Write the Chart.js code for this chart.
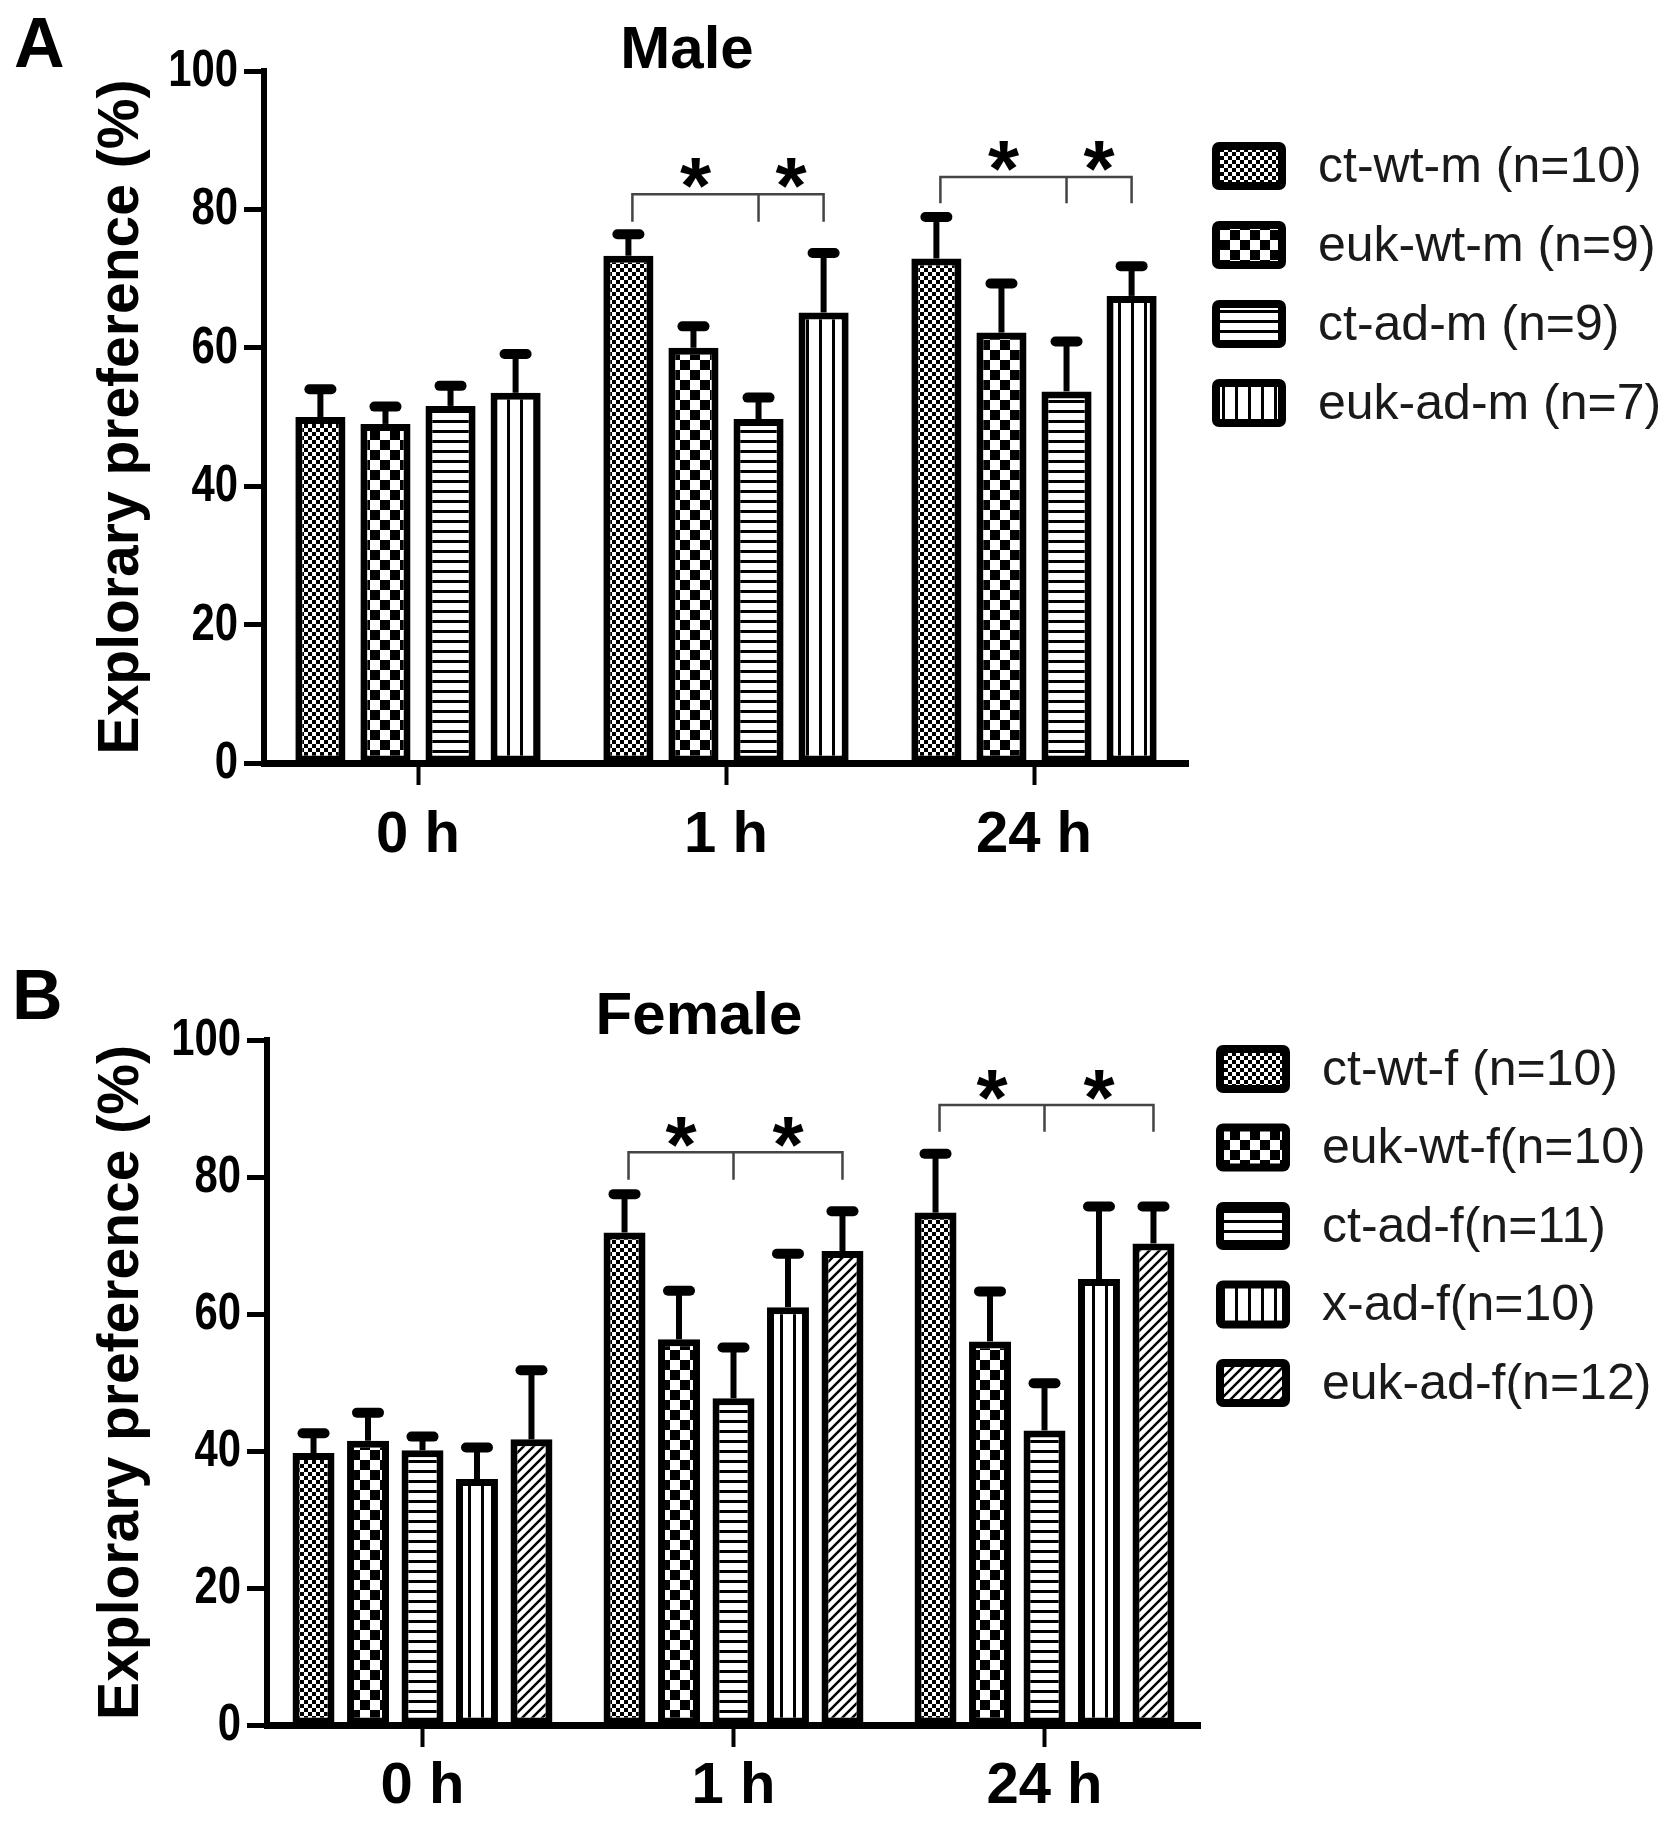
<!DOCTYPE html>
<html>
<head>
<meta charset="utf-8">
<script src="https://cdn.jsdelivr.net/npm/chart.js@4.4.1/dist/chart.umd.min.js"></script>
<style>
  body { margin: 0; background: #fff; width: 1677px; height: 1821px; position: relative; overflow: hidden;
         font-family: 'Liberation Sans', Arial, sans-serif; color: #000; }
  .panel { position: absolute; left: 0; }
  .letter { position: absolute; font-weight: bold; font-size: 70px; line-height: 1; }
  .ttl { position: absolute; font-weight: bold; font-size: 60px; line-height: 1; transform: translateX(-50%); white-space: nowrap; }
</style>
</head>
<body>
<div class="letter" style="left:14px; top:8px;">A</div>
<div class="ttl" style="left:687px; top:18px;">Male</div>
<canvas id="male" class="panel" style="top:0" width="1677" height="900"></canvas>

<div class="letter" style="left:12px; top:960px;">B</div>
<div class="ttl" style="left:699px; top:984px;">Female</div>
<canvas id="female" class="panel" style="top:900px" width="1677" height="921"></canvas>

<script>
// time points on the x axis
const timeLabels = ['0 h', '1 h', '24 h'];
const yTicks = [0, 20, 40, 60, 80, 100];

// Male groups (mean and SEM)
const maleNames = ['ct-wt-m (n=10)', 'euk-wt-m (n=9)', 'ct-ad-m (n=9)', 'euk-ad-m (n=7)'];
const maleCtWt = [50.0, 73.3, 72.9];
const maleEukWt = [49.0, 60.0, 62.2];
const maleCtAd = [51.6, 49.7, 53.7];
const maleEukAd = [53.5, 65.1, 67.5];
const maleCtWtSem = [4.0, 3.1, 6.0];
const maleEukWtSem = [2.5, 3.1, 7.1];
const maleCtAdSem = [2.9, 3.1, 7.2];
const maleEukAdSem = [5.6, 8.6, 4.3];

// Female groups
const femaleNames = ['ct-wt-f (n=10)', 'euk-wt-f(n=10)', 'ct-ad-f(n=11)', 'x-ad-f(n=10)', 'euk-ad-f(n=12)'];
const femaleCtWt = [39.7, 71.9, 74.8];
const femaleEukWt = [41.5, 56.3, 56.0];
const femaleCtAd = [40.1, 47.7, 43.0];
const femaleXAd = [35.9, 61.0, 65.1];
const femaleEukAd = [41.7, 69.2, 70.3];
const femaleCtWtSem = [2.9, 5.6, 8.6];
const femaleEukWtSem = [4.1, 7.1, 7.3];
const femaleCtAdSem = [2.0, 7.4, 6.9];
const femaleXAdSem = [4.6, 7.8, 10.6];
const femaleEukAdSem = [10.1, 5.8, 5.4];

// significance brackets: [time index, bracket level, leg bottom]
const maleBrackets = [[1, 82.2, 78.2], [2, 84.7, 80.9]];
const femaleBrackets = [[1, 83.6, 79.6], [2, 90.5, 86.6]];

Chart.defaults.font.family = "'Liberation Sans', Arial, sans-serif";
Chart.defaults.color = '#000';

// fill patterns for the bars
function makePattern(kind) {
  const c = document.createElement('canvas');
  const g = c.getContext('2d');
  let w = 10, h = 10;
  if (kind === 'dots') { w = h = 8; }
  if (kind === 'checker') { w = h = 20; }
  if (kind === 'vlines') { w = 13; h = 13; }
  c.width = w; c.height = h;
  g.fillStyle = '#fff';
  g.fillRect(0, 0, w, h);
  g.fillStyle = '#000';
  g.strokeStyle = '#000';
  if (kind === 'dots') {
    g.fillRect(0, 0, 4, 4);
    g.fillRect(4, 4, 4, 4);
  } else if (kind === 'checker') {
    g.fillRect(0, 0, 10, 10);
    g.fillRect(10, 10, 10, 10);
  } else if (kind === 'hlines') {
    g.fillRect(0, 0, w, 3);
  } else if (kind === 'vlines') {
    g.fillRect(0, 0, 3, h);
  } else if (kind === 'diag') {
    g.lineWidth = 2.5;
    g.beginPath();
    g.moveTo(0, h); g.lineTo(w, 0);
    g.moveTo(-2, 2); g.lineTo(2, -2);
    g.moveTo(w - 2, h + 2); g.lineTo(w + 2, h - 2);
    g.stroke();
  }
  return g.createPattern(c, 'repeat');
}

const pats = {
  dots: makePattern('dots'),
  checker: makePattern('checker'),
  hlines: makePattern('hlines'),
  vlines: makePattern('vlines'),
  diag: makePattern('diag')
};

function barSet(label, data, sem, pattern) {
  return {
    label: label, data: data, errors: sem,
    backgroundColor: pattern, borderColor: '#000', borderWidth: 7, borderSkipped: false
  };
}

// upper error bars with caps
const errorBars = {
  id: 'errorBars',
  afterDatasetsDraw(chart) {
    const ctx = chart.ctx;
    const ys = chart.scales.y;
    ctx.save();
    ctx.strokeStyle = '#000';
    chart.data.datasets.forEach((ds, di) => {
      const meta = chart.getDatasetMeta(di);
      meta.data.forEach((bar, i) => {
        const top = ys.getPixelForValue(ds.data[i] + ds.errors[i]);
        ctx.lineCap = 'butt';
        ctx.lineWidth = 6;
        ctx.beginPath();
        ctx.moveTo(bar.x, bar.y);
        ctx.lineTo(bar.x, top);
        ctx.stroke();
        ctx.lineCap = 'round';
        ctx.lineWidth = 10;
        ctx.beginPath();
        ctx.moveTo(bar.x - 11, top);
        ctx.lineTo(bar.x + 11, top);
        ctx.stroke();
      });
    });
    ctx.restore();
  }
};

// brackets with stars between control and treated groups
const brackets = {
  id: 'brackets',
  afterDatasetsDraw(chart, args, opts) {
    const ctx = chart.ctx;
    const ys = chart.scales.y;
    const n = chart.data.datasets.length;
    const first = chart.getDatasetMeta(0);
    const mid = chart.getDatasetMeta(2);
    const last = chart.getDatasetMeta(n - 1);
    const size = 80;
    ctx.save();
    ctx.strokeStyle = '#444';
    ctx.lineWidth = 2.5;
    ctx.fillStyle = '#000';
    ctx.font = 'bold ' + size + 'px "Liberation Sans", Arial, sans-serif';
    ctx.textAlign = 'center';
    ctx.textBaseline = 'alphabetic';
    opts.items.forEach(([k, lvl, leg]) => {
      const x1 = first.data[k].x + 4, xm = mid.data[k].x, x2 = last.data[k].x;
      const yl = ys.getPixelForValue(lvl), yb = ys.getPixelForValue(leg);
      ctx.beginPath();
      ctx.moveTo(x1, yb); ctx.lineTo(x1, yl); ctx.lineTo(x2, yl); ctx.lineTo(x2, yb);
      ctx.moveTo(xm, yl); ctx.lineTo(xm, yb);
      ctx.stroke();
      const sy = ys.getPixelForValue(lvl + 3.8) + 0.57 * size;
      ctx.fillText('*', (x1 + xm) / 2, sy);
      ctx.fillText('*', (xm + x2) / 2, sy);
    });
    ctx.restore();
  }
};

// y tick numbers in a narrow bold face, placed from the y scale
const narrowTicks = {
  id: 'narrowTicks',
  afterDraw(chart) {
    const ctx = chart.ctx;
    const ys = chart.scales.y;
    ctx.save();
    ctx.fillStyle = '#000';
    ctx.font = 'bold 51px "Liberation Sans", Arial, sans-serif';
    ctx.textAlign = 'right';
    ctx.textBaseline = 'middle';
    ys.ticks.forEach(t => {
      ctx.save();
      ctx.translate(ys.right - 26, ys.getPixelForValue(t.value) + 1);
      ctx.scale(0.82, 1);
      ctx.fillText(String(t.value), 0, 0);
      ctx.restore();
    });
    ctx.restore();
  }
};

// legend on the right with patterned boxes
const patternLegend = {
  id: 'patternLegend',
  afterDraw(chart, args, opts) {
    const ctx = chart.ctx;
    const x0 = chart.chartArea.right + opts.gap;
    ctx.save();
    chart.data.datasets.forEach((ds, i) => {
      const cy = opts.y0 + i * opts.step;
      const w = 74, h = 48, b = 8;
      ctx.fillStyle = '#000';
      ctx.beginPath();
      ctx.roundRect(x0, cy - h / 2, w, h, 7);
      ctx.fill();
      ctx.fillStyle = ds.backgroundColor;
      ctx.fillRect(x0 + b, cy - h / 2 + b, w - 2 * b, h - 2 * b);
      ctx.fillStyle = '#1a1a1a';
      ctx.font = '50px "Liberation Sans", Arial, sans-serif';
      ctx.textAlign = 'left';
      ctx.textBaseline = 'middle';
      ctx.fillText(ds.label, x0 + 106, cy + 2);
    });
    ctx.restore();
  }
};

function makeOptions(cfg) {
  return {
    responsive: false,
    animation: false,
    devicePixelRatio: 1,
    layout: { padding: { left: 0, top: cfg.top, right: cfg.right, bottom: 0 } },
    datasets: { bar: { categoryPercentage: cfg.catPct, barPercentage: 0.77 } },
    plugins: {
      legend: { display: false },
      tooltip: { enabled: false },
      brackets: { items: cfg.brackets },
      patternLegend: { gap: cfg.legendGap, y0: cfg.legendY0, step: cfg.legendStep }
    },
    scales: {
      x: {
        afterFit: s => { s.height = cfg.xHeight; },
        border: { display: true, color: '#000', width: 7 },
        grid: { display: true, drawOnChartArea: false, offset: false, drawTicks: true,
                tickLength: 22, tickWidth: 4, color: '#000' },
        ticks: { font: { size: 58, weight: 'bold' }, color: '#000', padding: cfg.xPad }
      },
      y: {
        min: 0, max: 100,
        afterFit: s => { s.width = cfg.yWidth; },
        afterBuildTicks: s => { s.ticks = yTicks.map(v => ({ value: v })); },
        border: { display: true, color: '#000', width: 6 },
        grid: { display: true, drawOnChartArea: false, drawTicks: true,
                tickLength: 20, tickWidth: 5, color: '#000' },
        ticks: { display: false },
        title: { display: true, text: 'Explorary preference (%)', color: '#000',
                 font: { size: 57, weight: 'bold' }, padding: { top: 88, bottom: 0 } }
      }
    }
  };
}

new Chart(document.getElementById('male'), {
  type: 'bar',
  data: {
    labels: timeLabels,
    datasets: [
      barSet(maleNames[0], maleCtWt, maleCtWtSem, pats.dots),
      barSet(maleNames[1], maleEukWt, maleEukWtSem, pats.checker),
      barSet(maleNames[2], maleCtAd, maleCtAdSem, pats.hlines),
      barSet(maleNames[3], maleEukAd, maleEukAdSem, pats.vlines)
    ]
  },
  options: makeOptions({ top: 71, right: 489, yWidth: 264, xHeight: 137, xPad: 16, catPct: 0.845,
                         brackets: maleBrackets, legendGap: 24, legendY0: 166, legendStep: 79 }),
  plugins: [errorBars, brackets, narrowTicks, patternLegend]
});

new Chart(document.getElementById('female'), {
  type: 'bar',
  data: {
    labels: timeLabels,
    datasets: [
      barSet(femaleNames[0], femaleCtWt, femaleCtWtSem, pats.dots),
      barSet(femaleNames[1], femaleEukWt, femaleEukWtSem, pats.checker),
      barSet(femaleNames[2], femaleCtAd, femaleCtAdSem, pats.hlines),
      barSet(femaleNames[3], femaleXAd, femaleXAdSem, pats.vlines),
      barSet(femaleNames[4], femaleEukAd, femaleEukAdSem, pats.diag)
    ]
  },
  options: makeOptions({ top: 140, right: 477, yWidth: 267, xHeight: 96, xPad: 5, catPct: 0.876,
                         brackets: femaleBrackets, legendGap: 16, legendY0: 169, legendStep: 78.5 }),
  plugins: [errorBars, brackets, narrowTicks, patternLegend]
});
</script>
</body>
</html>
